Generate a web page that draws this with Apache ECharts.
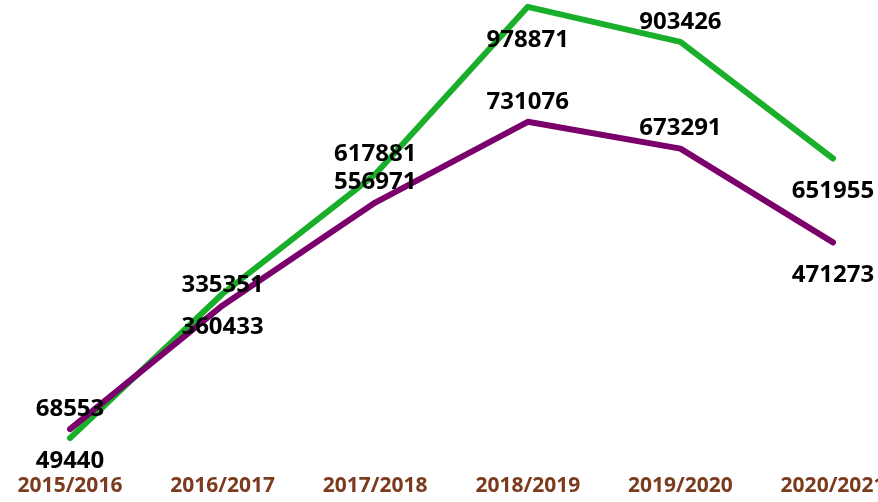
<!DOCTYPE html>
<html>
<head>
<meta charset="utf-8">
<script src="https://cdn.jsdelivr.net/npm/echarts@6/dist/echarts.min.js"></script>
<style>
  html, body { margin: 0; padding: 0; background: #fff; }
  #main { width: 878px; height: 502px; }
</style>
</head>
<body>
<div id="main"></div>
<script>
const categories = ['2015/2016', '2016/2017', '2017/2018', '2018/2019', '2019/2020', '2020/2021'];
const greenValues = [49440, 360433, 617881, 978871, 903426, 651955];
const purpleValues = [68553, 335351, 556971, 731076, 673291, 471273];
// where each data label sits, relative to its point
const greenLabelPos = ['bottom', 'bottom', 'top', 'bottom', 'top', 'bottom'];
const purpleLabelPos = ['top', 'top', 'top', 'top', 'top', 'bottom'];

const chart = echarts.init(document.getElementById('main'), null, { renderer: 'canvas' });

function buildData(values, positions) {
  return values.map((v, i) => {
    let dist = positions[i] === 'top' ? 7 : 20;
    // first point sits right above the axis labels, label is tucked closer
    if (i === 0 && positions[i] === 'bottom') dist = 10;
    return {
      value: v,
      label: { position: positions[i], distance: dist },
    };
  });
}

const labelStyle = {
  show: true,
  color: '#000000',
  opacity: 1,
  fontFamily: 'Noto Sans',
  fontWeight: 'bold',
  fontSize: 24,
};

chart.setOption({
  animation: false,
  grid: { left: 70, right: 45, top: -3, bottom: 41, outerBoundsMode: 'none', containLabel: false },
  xAxis: {
    type: 'category',
    data: categories,
    boundaryGap: false,
    axisLine: { show: false },
    axisTick: { show: false },
    axisLabel: {
      color: '#7b3b1e',
      fontFamily: 'Noto Sans',
      fontWeight: 'bold',
      fontSize: 21,
      margin: 15,
      interval: 0,
    },
  },
  yAxis: {
    type: 'value',
    min: 0,
    max: 1000000,
    show: false,
    splitLine: { show: false },
  },
  series: [
    {
      name: 'green',
      type: 'line',
      data: buildData(greenValues, greenLabelPos),
      showSymbol: true,
      symbol: 'circle',
      symbolSize: 2,
      lineStyle: { color: '#1aaf2b', width: 6, cap: 'round', join: 'round' },
      itemStyle: { color: 'rgba(0,0,0,0)' },
      label: labelStyle,
    },
    {
      name: 'purple',
      type: 'line',
      data: buildData(purpleValues, purpleLabelPos),
      showSymbol: true,
      symbol: 'circle',
      symbolSize: 2,
      lineStyle: { color: '#7b006b', width: 6, cap: 'round', join: 'round' },
      itemStyle: { color: 'rgba(0,0,0,0)' },
      label: labelStyle,
    },
  ],
});
</script>
</body>
</html>
